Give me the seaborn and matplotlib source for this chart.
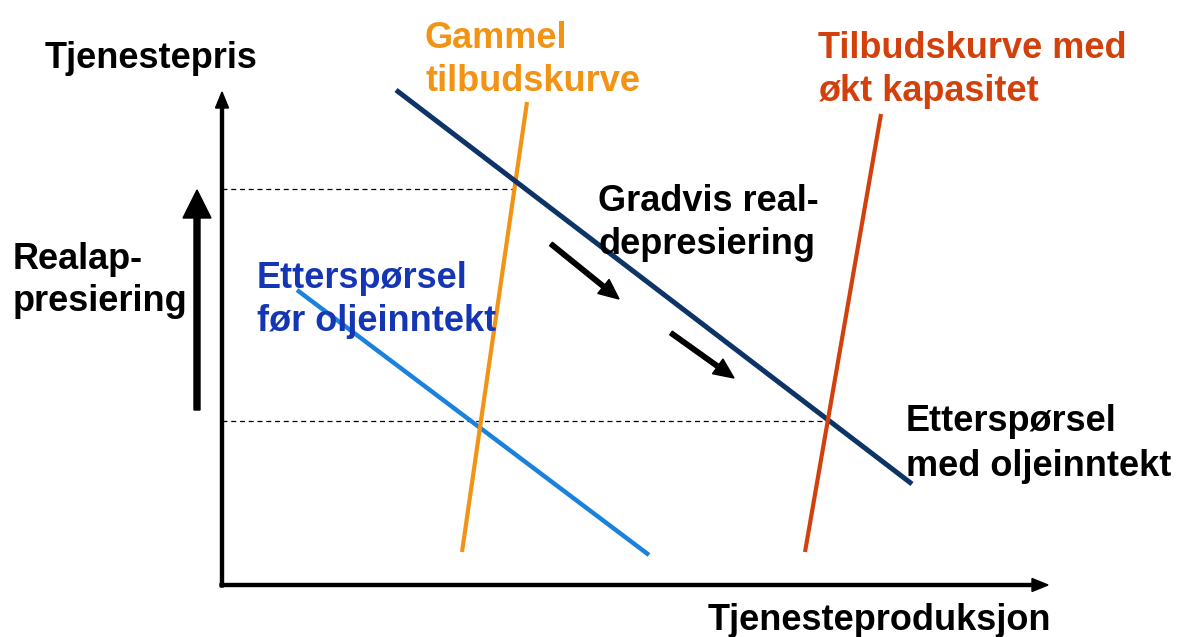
import matplotlib
matplotlib.use("Agg")
import matplotlib.pyplot as plt
import seaborn as sns
import numpy as np

# curve end points (picture coordinates, y grows downward)
demand_new_x = [396, 912]
demand_new_y = [90, 484]
demand_old_x = [297, 649]
demand_old_y = [290, 555]
supply_old_x = [527, 462]
supply_old_y = [102, 552]
supply_new_x = [881, 805]
supply_new_y = [114, 552]

# price levels at the two equilibria
price_high = 189
price_low = 421
eq_high_x = 513
eq_low_x = 828

sns.set_style("white")
plt.rcParams['font.family'] = ['Liberation Sans', 'DejaVu Sans']

fig = plt.figure(figsize=(11.78, 6.37), dpi=100)
ax = fig.add_axes([0, 0, 1, 1])
ax.set_xlim(0, 1178)
ax.set_ylim(637, 0)
ax.axis('off')

navy = '#0c3466'
lightblue = '#1a82dc'
orange = '#f39314'
red = '#d2400c'
textblue = '#1536b4'

# dashed guides
ax.plot([222, eq_high_x], [price_high, price_high], color='k', lw=0.9, ls=(0, (4, 3)))
ax.plot([222, eq_low_x], [price_low, price_low], color='k', lw=0.9, ls=(0, (4, 3)))

sns.lineplot(x=demand_old_x, y=demand_old_y, ax=ax, color=lightblue, lw=3.2,
             sort=False, solid_capstyle='butt')
sns.lineplot(x=supply_old_x, y=supply_old_y, ax=ax, color=orange, lw=3.0,
             sort=False, solid_capstyle='butt')
sns.lineplot(x=demand_new_x, y=demand_new_y, ax=ax, color=navy, lw=3.6,
             sort=False, solid_capstyle='butt')
sns.lineplot(x=supply_new_x, y=supply_new_y, ax=ax, color=red, lw=3.0,
             sort=False, solid_capstyle='butt')

# axes with arrows
ax.arrow(222, 587, 0, -495, width=3, head_width=13, head_length=16,
         length_includes_head=True, color='k', zorder=5)
ax.arrow(220, 585, 828, 0, width=3, head_width=13, head_length=16,
         length_includes_head=True, color='k', zorder=5)

# realappresiering arrow
ax.arrow(197, 410, 0, -220, width=6, head_width=28, head_length=28,
         length_includes_head=True, color='k', zorder=5)

# gradual depreciation arrows
ax.arrow(551, 244, 68, 55, width=4.5, head_width=18, head_length=20,
         length_includes_head=True, color='k', zorder=5)
ax.arrow(671, 333, 63, 45, width=4.5, head_width=18, head_length=20,
         length_includes_head=True, color='k', zorder=5)

fs = 26
labels = [
    (45, [68], ['Tjenestepris'], 'k'),
    (425, [48, 91], ['Gammel', 'tilbudskurve'], orange),
    (818, [58, 101], ['Tilbudskurve med', 'økt kapasitet'], red),
    (598, [211, 254], ['Gradvis real-', 'depresiering'], 'k'),
    (13, [269, 311], ['Realap-', 'presiering'], 'k'),
    (257, [288, 331], ['Etterspørsel', 'før oljeinntekt'], textblue),
    (906, [431, 476], ['Etterspørsel', 'med oljeinntekt'], 'k'),
    (708, [630], ['Tjenesteproduksjon'], 'k'),
]
for x, ys, lines, c in labels:
    for y, s in zip(ys, lines):
        ax.text(x, y, s, fontsize=fs, fontweight='bold', color=c,
                ha='left', va='baseline', zorder=6)

fig.savefig('out.png', dpi=100)
